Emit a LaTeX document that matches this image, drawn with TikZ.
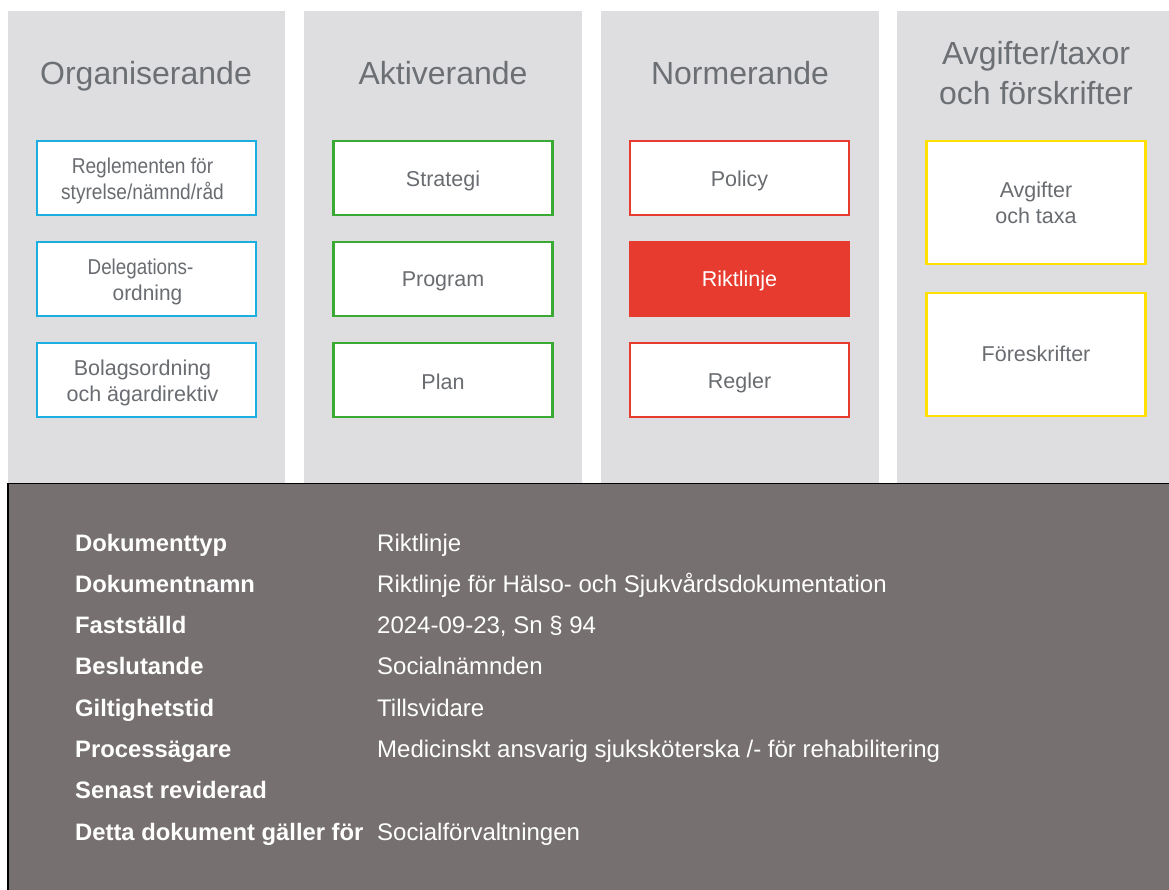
\documentclass[tikz,border=0pt]{standalone}
\usepackage{fontspec}
\setmainfont{Liberation Sans}
\definecolor{colbg}{RGB}{222,222,224}
\definecolor{hdr}{RGB}{108,111,115}
\definecolor{boxtxt}{RGB}{105,108,112}
\definecolor{cblue}{RGB}{27,174,225}
\definecolor{cgreen}{RGB}{58,170,53}
\definecolor{cred}{RGB}{230,59,46}
\definecolor{cyellow}{RGB}{255,224,0}
\definecolor{panel}{RGB}{118,113,112}
\newcommand{\cond}[1]{\scalebox{0.89}[1]{#1}}
\begin{document}
\begin{tikzpicture}[x=1pt,y=-1pt,
  column/.style={fill=colbg,draw=none},
  title/.style={text=hdr,font=\fontsize{32}{40}\selectfont,align=center,inner sep=0pt},
  docbox/.style={draw=#1,line width=2.5pt,fill=white,minimum width=219pt,minimum height=74pt,inner sep=0pt},
  boxtext/.style={text=boxtxt,font=\fontsize{21.5}{26}\selectfont,align=center,inner sep=0pt},
  lbl/.style={anchor=base west,text=white,font=\bfseries\fontsize{23.8}{28}\selectfont,inner sep=0pt},
  val/.style={anchor=base west,text=white,font=\fontsize{24}{28}\selectfont,inner sep=0pt}]
\useasboundingbox (0,0) rectangle (1169,890);
\fill[white] (0,0) rectangle (1169,890);
% columns
\fill[column] (8,11) rectangle (285,483);
\fill[column] (304,11) rectangle (582,483);
\fill[column] (601,11) rectangle (879,483);
\fill[column] (897,11) rectangle (1169,483);
% titles
\node[title,anchor=base] (t1) at (146,85) {Organiserande};
\node[title,anchor=base] (t2) at (443,85) {Aktiverande};
\node[title,anchor=base] (t3) at (740,85) {Normerande};
\node[title] (t4) at (1036,73) {Avgifter/taxor\\och förskrifter};
% column 1
\node[docbox=cblue] (a1) at (146.5,178) {};
\node[boxtext] (a1t) at ([xshift=-4pt,yshift=-2.5pt]a1.center) {\cond{Reglementen för}\\\cond{styrelse/nämnd/råd}};
\node[docbox=cblue] (a2) at (146.5,279) {};
\node[boxtext,align=left] (a2t) at ([xshift=-6pt,yshift=-2.5pt]a2.center) {\scalebox{0.875}[1]{Delegations-}\\\hspace*{25pt}\scalebox{0.97}[1]{ordning}};
\node[docbox=cblue] (a3) at (146.5,380) {};
\node[boxtext] (a3t) at ([xshift=-4pt,yshift=-2.5pt]a3.center) {Bolagsordning\\och ägardirektiv};
% column 2
\node[docbox=cgreen] (b1) at (443,178) {};
\node[boxtext] (b1t) at ([yshift=-2.5pt]b1.center) {Strategi};
\node[docbox=cgreen] (b2) at (443,279) {};
\node[boxtext] (b2t) at ([yshift=-2.5pt]b2.center) {Program};
\node[docbox=cgreen] (b3) at (443,380) {};
\node[boxtext] (b3t) at ([yshift=-1.5pt]b3.center) {Plan};
% column 3
\node[docbox=cred] (c1) at (739.5,178) {};
\node[boxtext] (c1t) at ([yshift=-2.5pt]c1.center) {Policy};
\node[docbox=cred,fill=cred] (c2) at (739.5,279) {};
\node[boxtext,text=white] (c2t) at ([yshift=-1.5pt]c2.center) {Riktlinje};
\node[docbox=cred] (c3) at (739.5,380) {};
\node[boxtext] (c3t) at ([yshift=-2.5pt]c3.center) {Regler};
% column 4
\node[docbox=cyellow,minimum height=123pt] (d1) at (1036,202.5) {};
\node[boxtext] (d1t) at ([yshift=-0.5pt]d1.center) {Avgifter\\och taxa};
\node[docbox=cyellow,minimum height=123pt] (d2) at (1036,354.5) {};
\node[boxtext] (d2t) at ([yshift=1pt]d2.center) {Föreskrifter};
% bottom panel
\filldraw[fill=panel,draw=black,line width=1.5pt] (8,483.5) rectangle (1180,900);
\node[lbl] (l1) at (75,551) {Dokumenttyp};
\node[lbl] (l2) at (75,592.3) {Dokumentnamn};
\node[lbl] (l3) at (75,633.6) {Fastställd};
\node[lbl] (l4) at (75,674.9) {Beslutande};
\node[lbl] (l5) at (75,716.2) {Giltighetstid};
\node[lbl] (l6) at (75,757.5) {Processägare};
\node[lbl] (l7) at (75,798.8) {Senast reviderad};
\node[lbl] (l8) at (75,840.1) {Detta dokument gäller för};
\node[val] (v1) at (377,551) {Riktlinje};
\node[val] (v2) at (377,592.3) {Riktlinje för Hälso- och Sjukvårdsdokumentation};
\node[val] (v3) at (377,633.6) {2024-09-23, Sn § 94};
\node[val] (v4) at (377,674.9) {Socialnämnden};
\node[val] (v5) at (377,716.2) {Tillsvidare};
\node[val] (v6) at (377,757.5) {Medicinskt ansvarig sjuksköterska /- för rehabilitering};
\node[val] (v8) at (377,840.1) {Socialförvaltningen};
\end{tikzpicture}
\end{document}
